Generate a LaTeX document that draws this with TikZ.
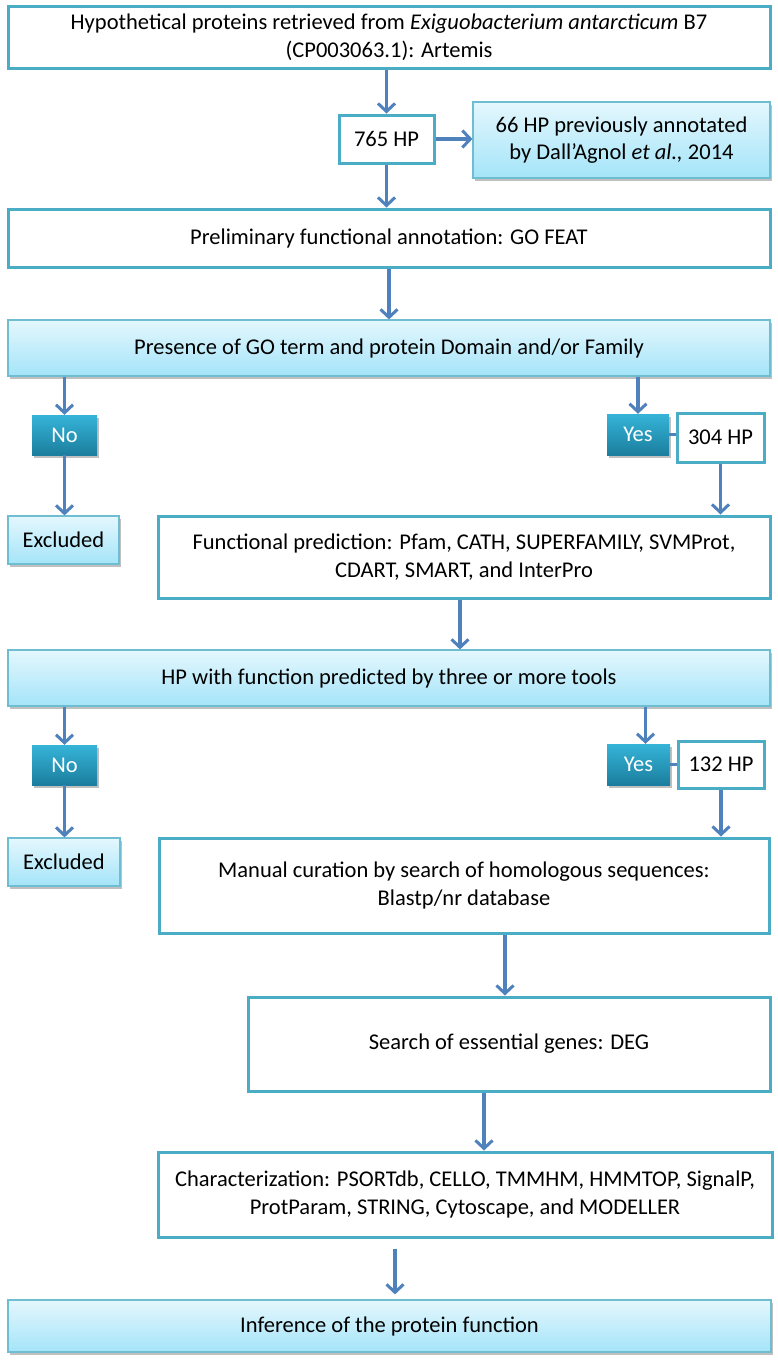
\documentclass[tikz,border=0pt]{standalone}
\usepackage{fontspec}
\setmainfont{Carlito}
\usetikzlibrary{arrows.meta,shadows}
\definecolor{bord}{RGB}{75,172,198}
\definecolor{arrowc}{RGB}{79,129,189}
\definecolor{ltop}{RGB}{228,247,253}
\definecolor{lbot}{RGB}{164,228,249}
\definecolor{dtop}{RGB}{53,180,216}
\definecolor{dbot}{RGB}{27,126,158}
\newcommand\placebox[7]{\node[#1, minimum width={(#5)-(#3)}, minimum height={(#6)-(#4)}] (#2) at ({((#3)+(#5))/2},{((#4)+(#6))/2}) {#7};}
\begin{document}
\begin{tikzpicture}[x=1pt,y=-1pt,
  base/.style={rectangle, inner sep=0pt, align=center, font=\fontsize{22.5}{27.5}\selectfont},
  wbox/.style={base, draw=bord, line width=3pt, fill=white},
  lbox/.style={base, draw=bord!80, line width=1.2pt, top color=ltop, bottom color=lbot,
    drop shadow={shadow xshift=1.5pt, shadow yshift=-2.5pt, opacity=0.35, fill=black!70}},
  dbox/.style={base, draw=none, top color=dtop, bottom color=dbot, text=white,
    drop shadow={shadow xshift=1.5pt, shadow yshift=-2.5pt, opacity=0.35, fill=black!70}},
  arr/.style={draw=arrowc, line width=3.4pt, -{Straight Barb[length=8pt,width=17pt,line width=3pt]}},
  link/.style={draw=arrowc, line width=3.4pt}
]
\useasboundingbox (0,0) rectangle (777,1361);
\fill[white] (0,0) rectangle (777,1361);

\placebox{wbox}{b1}{8}{6}{770}{68}{Hypothetical proteins retrieved from \textit{Exiguobacterium antarcticum} B7\\(CP003063.1): Artemis}
\placebox{wbox}{hpa}{339}{115}{434}{163}{765 HP}
\placebox{lbox}{hpb}{473}{102}{770}{178}{66 HP previously annotated\\by Dall’Agnol \textit{et al.,} 2014}
\placebox{wbox}{gofeat}{8}{209}{770}{267}{Preliminary functional annotation: GO FEAT}
\placebox{lbox}{pres}{8}{320}{770}{376}{Presence of GO term and protein Domain and/or Family}
\placebox{dbox}{noa}{32}{415}{97}{455}{No}
\placebox{lbox}{exca}{8}{516}{119}{564}{Excluded}
\placebox{dbox}{yesa}{607}{414}{669}{455}{Yes}
\placebox{wbox}{hpc}{677}{413}{764}{462}{304 HP}
\placebox{wbox}{func}{158}{516}{770}{598}{Functional prediction: Pfam, CATH, SUPERFAMILY, SVMProt,\\CDART, SMART, and InterPro}
\placebox{lbox}{hpw}{8}{650}{770}{706}{HP with function predicted by three or more tools}
\placebox{dbox}{nob}{32}{745}{97}{785}{No}
\placebox{lbox}{excb}{8}{838}{120}{886}{Excluded}
\placebox{dbox}{yesb}{607}{744}{670}{785}{Yes}
\placebox{wbox}{hpd}{678}{741}{764}{788}{132 HP}
\placebox{wbox}{man}{159}{838}{769}{933}{Manual curation by search of homologous sequences:\\Blastp/nr database}
\placebox{wbox}{deg}{248}{997}{770}{1091}{Search of essential genes: DEG}
\placebox{wbox}{char}{158}{1152}{772}{1237}{Characterization: PSORTdb, CELLO, TMMHM, HMMTOP, SignalP,\\ProtParam, STRING, Cytoscape, and MODELLER}
\placebox{lbox}{inf}{8}{1300}{771}{1352}{Inference of the protein function}

\draw[arr] (b1.south -| hpa.north) -- (hpa.north);
\draw[arr] (hpa.east) -- (hpa.east -| hpb.west);
\draw[arr] (hpa.south) -- (hpa.south |- gofeat.north);
\draw[arr] (gofeat.south) -- (pres.north);
\draw[arr] (pres.south -| noa.north) -- (noa.north);
\draw[arr] (noa.south) -- (noa.south |- exca.north);
\draw[arr] (pres.south -| yesa.north) -- (yesa.north);
\draw[link] (yesa.east) -- (yesa.east -| hpc.west);
\draw[arr] (hpc.south) -- (hpc.south |- func.north);
\draw[arr] ([xshift=-4pt]func.south) -- ([xshift=-4pt]func.south |- hpw.north);
\draw[arr] (hpw.south -| nob.north) -- (nob.north);
\draw[arr] (nob.south) -- (nob.south |- excb.north);
\draw[arr] ([xshift=7pt]hpw.south -| yesb.north) -- ([xshift=7pt]yesb.north);
\draw[link] (yesb.east) -- (yesb.east -| hpd.west);
\draw[arr] (hpd.south) -- (hpd.south |- man.north);
\draw[arr] ([xshift=-4pt]man.south -| deg.north) -- ([xshift=-4pt]deg.north);
\draw[arr] ([xshift=-25pt]deg.south) -- ([xshift=-25pt]deg.south |- char.north);
\draw[arr, shorten <=10pt, shorten >=5pt] ([xshift=-70pt]char.south) -- ([xshift=-70pt]char.south |- inf.north);
\end{tikzpicture}
\end{document}
